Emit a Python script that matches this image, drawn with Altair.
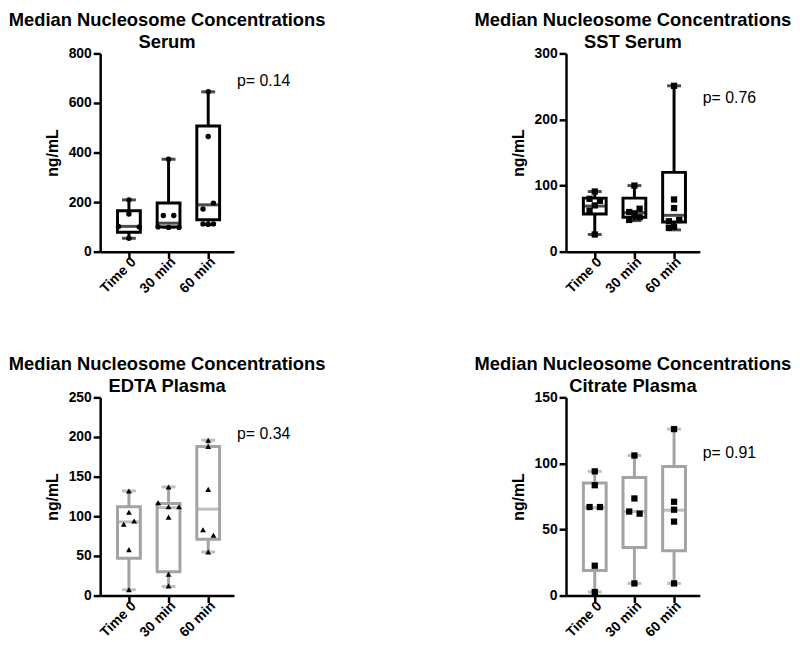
import altair as alt
import pandas as pd

categories = ["Time 0", "30 min", "60 min"]
slot_order = ["L2", "L", "C", "R", "R2"]

subtitles = ["Serum", "SST Serum", "EDTA Plasma", "Citrate Plasma"]
p_values = ["0.14", "0.76", "0.34", "0.91"]

# Serum
serum_min = [54, 98, 110]
serum_q1 = [78, 100, 129]
serum_med = [102, 115, 189]
serum_q3 = [165, 196, 507]
serum_max = [209, 373, 645]
serum_pts = [[209, 152, 102, 100, 54], [373, 146, 146, 100, 98, 98], [645, 465, 196, 172, 112, 110, 112]]
serum_slot = [["C", "C", "L2", "R2", "C"], ["C", "L", "R", "L2", "C", "R2"], ["C", "C", "R", "L", "L", "C", "R"]]

# SST Serum
sst_min = [26, 47, 33]
sst_q1 = [57, 52, 45]
sst_med = [69, 59, 55]
sst_q3 = [81, 81, 120]
sst_max = [91, 100, 251]
sst_pts = [[91, 80, 77, 70, 62, 26], [100, 65, 60, 58, 52, 48], [251, 79, 66, 48, 46, 38, 36]]
sst_slot = [["C", "L", "R", "C", "L", "C"], ["C", "R", "L", "C", "R", "L"], ["C", "C", "C", "R", "L", "C", "L"]]

# EDTA Plasma
edta_min = [7.4, 11.5, 55]
edta_q1 = [47, 30, 71]
edta_med = [93, 111, 109]
edta_q3 = [112, 116, 188]
edta_max = [132, 137, 196]
edta_pts = [[132, 105, 94, 90, 58, 7.4], [137, 117, 112, 112, 99, 27, 12], [196, 188, 134, 83, 76, 55]]
edta_slot = [["C", "C", "R", "L", "C", "C"], ["C", "L2", "C", "R2", "C", "C", "C"], ["C", "C", "C", "L", "R", "C"]]

# Citrate Plasma
cit_min = [2.7, 9.2, 9.2]
cit_q1 = [19, 36.4, 34]
cit_med = [66.6, 63.6, 64.6]
cit_q3 = [85.2, 89.4, 97.6]
cit_max = [94, 106, 126]
cit_pts = [[94, 83.5, 67, 67, 22.6, 2.7], [106, 73.5, 63.6, 62, 9.2], [126, 71, 65, 56, 9.2]]
cit_slot = [["C", "C", "L", "R", "C", "C"], ["C", "C", "L", "R", "C"], ["C", "C", "C", "C", "C"]]

FONT = "Liberation Sans"
W, H = 135, 200


def make_panel(subtitle, mins, q1s, meds, q3s, maxs, pts, slots, shape, psize, color,
               ymax, ystep, pval, p_y):
    box_df = pd.DataFrame({"cat": categories, "lo": mins, "q1": q1s, "med": meds,
                           "q3": q3s, "hi": maxs})
    rows = []
    for c, vals, sl in zip(categories, pts, slots):
        for v, s in zip(vals, sl):
            rows.append({"cat": c, "v": v, "slot": s})
    pt_df = pd.DataFrame(rows)

    xenc = alt.X("cat:N", sort=categories,
                 scale=alt.Scale(domain=categories, paddingInner=0, paddingOuter=0.1875, align=0.6),
                 axis=alt.Axis(title=None, labelAngle=315, labelAlign="right",
                               labelBaseline="middle", labelPadding=1, labelOffset=5))
    yscale = alt.Scale(domain=[0, ymax], nice=False)
    tick_vals = list(range(0, ymax + 1, ystep))
    yaxis = alt.Axis(title="ng/mL", values=tick_vals, tickCount=len(tick_vals) + 2,
                     titlePadding=8, labelOverlap=False)

    def Y(f):
        return alt.Y(f, scale=yscale, axis=yaxis)

    base = alt.Chart(box_df)
    whisk = base.mark_rule(color=color, strokeWidth=3).encode(x=xenc, y=Y("lo:Q"), y2="hi:Q")
    box = base.mark_bar(fill="white", stroke=color, strokeWidth=3, size=23).encode(
        x=xenc, y=Y("q1:Q"), y2="q3:Q")
    med = base.mark_tick(color=color, thickness=3, size=23, orient="horizontal").encode(
        x=xenc, y=Y("med:Q"))
    caplo = base.mark_tick(color=color, thickness=3, size=14, orient="horizontal").encode(
        x=xenc, y=Y("lo:Q"))
    caphi = base.mark_tick(color=color, thickness=3, size=14, orient="horizontal").encode(
        x=xenc, y=Y("hi:Q"))
    points = alt.Chart(pt_df).mark_point(shape=shape, filled=True, color="black", opacity=1,
                                         size=psize).encode(
        x=xenc,
        xOffset=alt.XOffset("slot:N", scale=alt.Scale(type="point", domain=slot_order,
                                                      range=[9.5, 30.5], padding=0)),
        y=Y("v:Q"))
    ptxt = alt.Chart(pd.DataFrame({"t": ["p= " + pval]})).mark_text(
        align="left", baseline="alphabetic", fontSize=16, font=FONT, color="black").encode(
        x=alt.value(W + 3), y=alt.datum(p_y), text="t:N")

    return alt.layer(whisk, box, med, caplo, caphi, points, ptxt).properties(
        width=W, height=H,
        title=alt.TitleParams(text=["Median Nucleosome Concentrations", subtitle]))


p1 = make_panel(subtitles[0], serum_min, serum_q1, serum_med, serum_q3, serum_max,
                serum_pts, serum_slot, "circle", 30, "black", 800, 200, p_values[0], 670)
p2 = make_panel(subtitles[1], sst_min, sst_q1, sst_med, sst_q3, sst_max,
                sst_pts, sst_slot, "square", 40, "black", 300, 100, p_values[1], 225)
p3 = make_panel(subtitles[2], edta_min, edta_q1, edta_med, edta_q3, edta_max,
                edta_pts, edta_slot, "triangle-up", 35, "#a3a3a3", 250, 50, p_values[2], 197)
p4 = make_panel(subtitles[3], cit_min, cit_q1, cit_med, cit_q3, cit_max,
                cit_pts, cit_slot, "square", 40, "#a3a3a3", 150, 50, p_values[3], 104)

chart = alt.concat(p1, p2, p3, p4, columns=2, spacing={"row": 147, "column": 335},
                   bounds="flush").properties(padding=0).configure(font=FONT).configure_view(
    stroke=None).configure_axis(
    domainColor="black", domainWidth=2.5, tickColor="black", tickWidth=2.5, tickSize=7,
    labelColor="black", labelFontSize=14, labelFontWeight="bold", labelFont=FONT,
    titleFont=FONT, titleFontSize=16, titleFontWeight="bold", titleColor="black",
    grid=False, labelPadding=2).configure_title(
    font=FONT, fontSize=18.5, fontWeight="bold", color="black", anchor="middle",
    frame="group", lineHeight=22, offset=-5)

chart.save("out.html", embed_options={"renderer": "svg", "actions": False})
